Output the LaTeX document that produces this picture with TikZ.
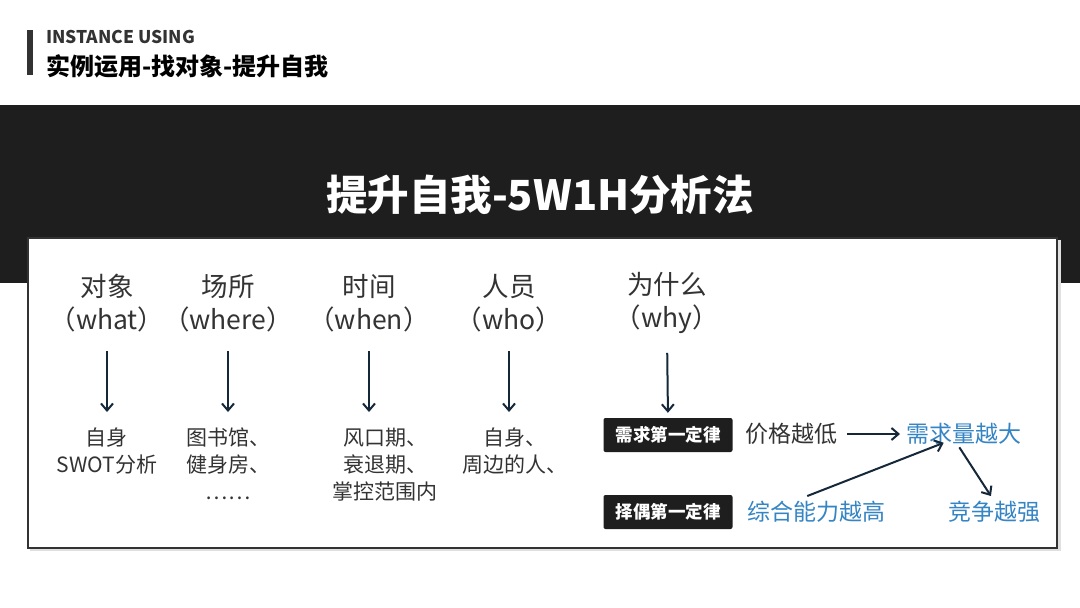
\documentclass[tikz,border=0pt]{standalone}
\usepackage{fontspec}
\setmainfont{Noto Sans CJK SC}
\usetikzlibrary{arrows.meta,positioning,calc}
\definecolor{band}{HTML}{1E1E1E}
\definecolor{ink}{HTML}{333333}
\definecolor{navy}{HTML}{15283A}
\definecolor{sky}{HTML}{3584C4}
\tikzset{
  head/.style={align=center, text=ink, font=\fontsize{26.5}{33}\selectfont, inner sep=0pt},
  item/.style={align=center, text=ink, font=\fontsize{21}{27}\selectfont, inner sep=0pt, anchor=north},
  law/.style={fill=band, rounded corners=2pt, text=white, font=\bfseries\fontsize{17.5}{20}\selectfont, minimum width=129pt, minimum height=34pt, inner sep=0pt},
  phrase/.style={text=ink, font=\fontsize{23}{26}\selectfont, inner sep=0pt},
  bluephrase/.style={phrase, text=sky},
  arrow/.style={-{Straight Barb[length=7pt,width=12pt]}, line width=2pt, draw=navy},
  down/.style={arrow, shorten <=19pt, shorten >=16pt}
}
\begin{document}
\begin{tikzpicture}[x=1pt, y=-1pt]
\useasboundingbox (0,0) rectangle (1080,608);
\fill[white] (0,0) rectangle (1080,608);
% header
\fill[ink] (27,30) rectangle (33,75);
\node[anchor=west, inner sep=0pt, text=ink, font=\bfseries\fontsize{17.5}{20}\selectfont] (tag) at (46,37) {INSTANCE USING};
\node[anchor=west, inner sep=0pt, text=black, font=\bfseries\fontsize{24}{28}\selectfont] (sub) at (46,66) {实例运用-找对象-提升自我};
% black band and panel
\fill[band] (0,105) rectangle (1080,283);
\node[text=white, inner sep=0pt, font=\bfseries\fontsize{41.5}{46}\selectfont] (title) at (540,195) {提升自我-5W1H分析法};
\fill[black!12] (30,240) rectangle (1061,551);
\draw[fill=white, draw=ink, line width=2.4pt] (28,238) rectangle (1057,548);
% five columns
\node[head] (h1) at (107,303) {对象\\（what）};
\node[head] (h2) at (228,303) {场所\\（where）};
\node[head] (h3) at (369,303) {时间\\（when）};
\node[head] (h4) at (509,303) {人员\\（who）};
\node[head] (h5) at (667,303) {为什么\\（why）};
\node[item] (i1) at (107,428) {自身\\SWOT分析};
\node[item] (i2) at (228,428) {图书馆、\\健身房、\\……};
\node[item] (i3) at (385,428) {风口期、\\衰退期、\\掌控范围内};
\node[item] (i4) at (515,428) {自身、\\周边的人、};
\node[law] (l1) at (668,435) {需求第一定律};
\node[law] (l2) at (668,512) {择偶第一定律};
\draw[down] (h1.south) -- (h1.south |- i1.north);
\draw[down] (h2.south) -- (h2.south |- i2.north);
\draw[down] (h3.south) -- (h3.south |- i3.north);
\draw[down] (h4.south) -- (h4.south |- i4.north);
\draw[arrow, shorten <=19pt, shorten >=5pt] (h5.south) -- (l1.north);
% laws
\node[phrase, anchor=west] (p1) at (745,434) {价格越低};
\node[bluephrase, anchor=west] (d1) at (906,434) {需求量越大};
\node[bluephrase, anchor=west] (c1) at (747,512) {综合能力越高};
\node[bluephrase, anchor=west] (k1) at (948,512) {竞争越强};
\draw[arrow] ([xshift=10pt]p1.east) -- ([xshift=-6pt]d1.west);
\draw[arrow, shorten <=14pt] ([xshift=-22pt]c1.north) -- ([xshift=-20pt, yshift=2pt]d1.south);
\draw[arrow, shorten <=3pt, shorten >=6pt] ([xshift=-6pt]d1.south) -- (k1.north);
\end{tikzpicture}
\end{document}
